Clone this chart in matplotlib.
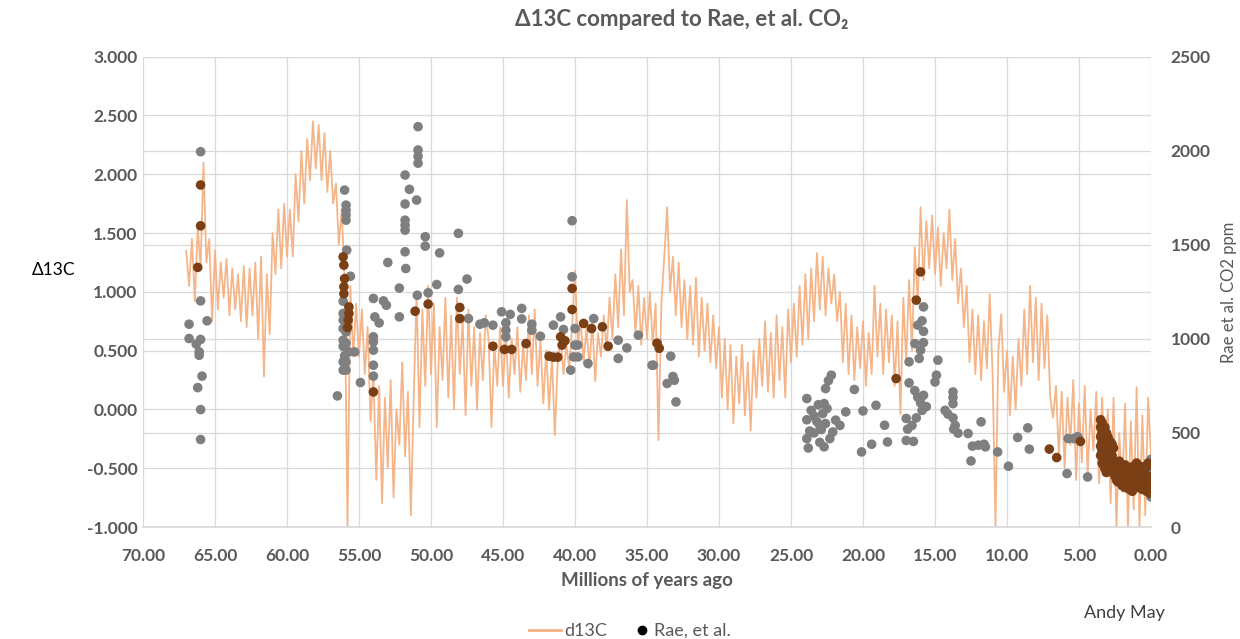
import numpy as np
import matplotlib
matplotlib.use("Agg")
import matplotlib.pyplot as plt
from matplotlib.lines import Line2D

plt.rcParams['font.family'] = ['Lato', 'DejaVu Sans']

# ---------------- data ----------------
TITLE = "Δ13C compared to Rae, et al. CO₂"
X_TICKS = [70, 65, 60, 55, 50, 45, 40, 35, 30, 25, 20, 15, 10, 5, 0]
LEFT_TICKS = [-1.0, -0.5, 0.0, 0.5, 1.0, 1.5, 2.0, 2.5, 3.0]
RIGHT_TICKS = [0, 500, 1000, 1500, 2000, 2500]

# d13C sampled every 0.2 Myr from 67.0 Ma to 0.0 Ma (one row per Myr)
D13C_START, D13C_STEP = 67.0, 0.2
D13C_VALUES = [
    1.35, 1.05, 1.45, 0.92, 1.55,    # 67
    1.20, 2.10, 1.25, 1.45, 0.75,    # 66
    1.35, 0.85, 1.25, 0.95, 1.28,    # 65
    0.80, 1.20, 0.85, 1.15, 0.75,    # 64
    1.22, 0.70, 1.20, 0.80, 1.25,    # 63
    0.60, 1.30, 0.28, 1.15, 0.64,    # 62
    1.50, 1.15, 1.70, 1.20, 1.75,    # 61
    1.30, 1.70, 1.30, 2.00, 1.60,    # 60
    2.20, 1.75, 2.30, 1.95, 2.45,    # 59
    2.05, 2.42, 1.95, 2.35, 1.85,    # 58
    2.20, 1.75, 1.92, 1.40, 1.70,    # 57
    1.10, -1.00, 1.05, 0.45, 0.90,   # 56
    0.45, 0.85, 0.30, 0.70, -0.10,   # 55
    0.30, -0.60, 0.20, -0.80, 0.10,  # 54
    -0.50, 0.25, -0.75, 0.00, -0.30, # 53
    0.40, -0.40, 0.15, -0.90, 0.10,  # 52
    1.00, -0.15, 0.85, 0.20, 1.05,   # 51
    0.30, 0.90, -0.15, 0.70, 0.25,   # 50
    0.95, 0.10, 0.80, 0.00, 0.95,    # 49
    0.30, 0.75, -0.05, 0.85, 0.20,   # 48
    0.70, 0.00, 0.65, 0.25, 0.80,    # 47
    0.60, -0.15, 0.55, 0.20, 0.70,   # 46
    0.20, 0.65, 0.10, 0.60, 0.30,    # 45
    0.70, 0.15, 0.55, 0.25, 0.80,    # 44
    0.30, 0.85, 0.20, 0.60, 0.05,    # 43
    0.50, 0.00, 0.45, -0.22, 0.40,   # 42
    0.60, 0.30, 0.55, 0.35, 0.70,    # 41
    1.18, 0.55, 0.75, 0.40, 0.70,    # 40
    0.35, 0.75, 0.24, 0.65, 0.45,    # 39
    0.80, 0.50, 0.95, 0.60, 1.15,    # 38
    0.70, 1.36, 0.80, 1.78, 1.00,    # 37
    1.10, 0.65, 1.05, 0.55, 0.95,    # 36
    0.60, 1.00, 0.55, 0.90, -0.26,   # 35
    0.90, 1.30, 1.72, 1.00, 1.30,    # 34
    0.80, 1.25, 0.70, 1.10, 0.60,    # 33
    1.05, 0.55, 1.12, 0.45, 0.95,    # 32
    0.50, 0.90, 0.40, 0.80, 0.35,    # 31
    0.70, 0.10, 0.60, 0.00, 0.55,    # 30
    -0.12, 0.45, 0.05, 0.55, -0.05,  # 29
    0.40, -0.18, 0.50, 0.10, 0.60,   # 28
    0.20, 0.75, 0.15, 0.65, 0.10,    # 27
    0.80, 0.25, 0.70, 0.10, 0.85,    # 26
    0.40, 0.90, 0.45, 1.05, 0.55,    # 25
    1.15, 0.60, 1.20, 0.75, 1.33,    # 24
    0.85, 1.30, 0.80, 1.20, 0.90,    # 23
    1.15, 0.75, 1.00, 0.40, 0.90,    # 22
    0.30, 0.80, 0.25, 0.70, 0.35,    # 21
    0.75, 0.20, 0.65, 0.30, 1.05,    # 20
    0.45, 0.90, 0.30, 0.85, 0.40,    # 19
    0.80, 0.20, 0.75, -0.04, 0.95,   # 18
    0.40, 1.10, 0.50, 1.38, 0.90,    # 17
    1.72, 1.10, 1.60, 1.20, 1.65,    # 16
    1.15, 1.55, 1.05, 1.50, 1.20,    # 15
    1.70, 1.10, 1.45, 0.90, 1.20,    # 14
    0.70, 1.05, 0.40, 0.85, 0.30,    # 13
    0.80, 0.25, 0.75, 0.35, 0.98,    # 12
    0.30, -1.00, 0.50, 0.81, 0.15,   # 11
    0.50, -0.05, 0.45, 0.00, 0.60,   # 10
    0.20, 0.85, 0.30, 1.05, 0.40,    # 9
    0.95, 0.25, 0.90, 0.35, 0.80,    # 8
    0.10, -0.07, 0.20, -0.40, 0.15,  # 7
    -0.50, 0.10, -0.30, 0.25, -0.60, # 6
    0.05, -0.45, 0.20, -0.55, 0.00,  # 5
    -0.35, 0.15, -0.63, 0.10, -0.40, # 4
    0.00, -0.80, 0.10, -1.00, -0.20, # 3
    -0.70, 0.05, -1.00, -0.10, -0.85,# 2
    0.19, -1.00, -0.05, -0.90, 0.10, # 1
    -0.40,                           # 0
]

# Rae et al. CO2 points (age Ma, ppm) - grey ones
RAE_GREY_AGE = [
    66.0, 66.0, 66.8, 65.55, 66.8, 66.0, 66.3, 66.1, 66.1, 65.9, 66.2, 66.0, 66.0,
    56.0, 55.9, 55.9, 55.9, 55.9, 55.85, 55.6, 56.1, 56.1, 55.9, 56.1, 55.9, 55.7, 55.3,
    56.1, 55.9, 56.1, 55.9, 56.5, 56.1, 56.1, 56.1, 56.0,
    54.9, 54.0, 54.0, 54.0, 54.0, 54.0, 54.0, 53.9, 53.6, 53.3, 53.1, 53.0, 52.2, 52.2,
    51.8, 51.8, 51.8, 51.8, 51.8, 51.8, 51.75, 51.5, 51.0, 50.9, 50.9, 50.9, 50.9, 50.95,
    50.4, 50.4, 50.2, 49.4, 49.6, 48.1, 48.1, 47.5, 47.4, 46.6,
    46.3, 45.7, 45.1, 44.5, 44.8, 44.8, 44.8, 43.7, 43.7, 43.0, 43.0, 42.4, 41.5, 41.0,
    40.8, 40.3, 40.2, 40.2, 40.0, 39.8, 40.0, 40.1, 39.8, 39.1, 38.7, 37.0, 37.0, 36.4,
    35.6, 34.65, 34.55,
    33.35, 33.1, 33.2, 33.6, 32.99,
    23.9, 23.6, 23.4, 23.9, 23.7, 23.9, 23.8, 23.4, 23.2, 23.1, 23.0,
    22.2, 22.4, 22.6, 22.7, 22.5, 22.8, 22.6, 22.9, 22.7, 22.1, 21.9, 21.6, 21.2, 22.3, 23.0,
    20.6, 20.0, 20.1, 19.4, 19.1, 18.5, 18.3,
    16.8, 16.8, 17.0, 16.9, 17.0, 16.5, 16.4, 16.2, 16.0, 15.9, 15.8, 15.6, 16.3, 16.6,
    16.4, 15.8, 16.2, 15.9, 15.8, 15.8, 16.0, 16.1,
    14.8, 14.9, 15.0, 13.75, 13.75, 13.75, 14.3, 14.1, 13.75, 13.6, 13.4, 13.7,
    12.7, 11.8, 12.4, 12.0, 11.6, 12.5,
    11.5, 10.65, 9.9, 9.26, 8.56, 8.45, 5.83, 5.75, 5.35, 4.4, 5.1,
    0.0, 0.0, 0.0, 0.0, 0.0, 0.0, 0.0,
]
RAE_GREY_PPM = [
    1995, 1202, 1078, 1096, 1002, 997, 972, 931, 913, 802, 741, 624, 465,
    1791, 1711, 1685, 1658, 1631, 1472, 1333, 1135, 1055, 1037, 993, 977, 931, 931,
    878, 878, 834, 834, 697, 1200, 1100, 960, 910,
    768, 802, 860, 940, 984, 1011, 1215, 1117, 1085, 1202, 1179, 1406, 1270, 1117,
    1871, 1717, 1631, 1605, 1578, 1463, 1374, 1795, 1738, 2128, 2004, 1970, 1934, 1232,
    1543, 1493, 1245, 1457, 1289, 1561, 1263, 1318, 1108, 1078,
    1085, 1073, 1144, 1130, 1085, 1046, 1011, 1162, 1106, 1078, 1046, 1014, 1073, 1117,
    1050, 834, 1628, 1330, 1055, 967, 967, 904, 904, 869, 1108, 993, 896, 952,
    1020, 860, 860,
    908, 780, 800, 763, 665,
    683, 620, 590, 570, 510, 470, 420, 500, 560, 650, 540,
    807, 778, 736, 656, 630, 603, 550, 518, 426, 505, 568, 540, 612, 470, 450,
    731, 617, 399, 440, 647, 541, 452,
    878, 766, 577, 520, 460, 455, 725, 690, 660, 620, 700, 640, 580, 540,
    975, 1170, 1073, 1096, 1040, 980, 940, 896,
    887, 807, 771, 718, 688, 656, 620, 600, 580, 540, 499, 520,
    497, 559, 430, 435, 440, 351,
    426, 399, 323, 476, 527, 414, 284, 470, 470, 266, 480,
    360, 320, 290, 250, 220, 190, 160,
]

# Rae et al. points that sit on the d13C band (rendered darker)
RAE_BROWN_AGE = [
    66.0, 66.0, 66.2,
    56.1, 56.05, 56.05, 56.05, 55.7, 55.7, 55.8, 56.0, 55.75,
    54.0, 51.1, 50.2, 48.0, 48.0,
    45.7, 44.9, 44.4, 43.4, 41.8, 41.5, 41.2, 41.0, 40.7, 40.9, 40.2, 40.2, 39.4,
    38.85, 38.1, 37.7, 34.3, 34.15,
    17.7, 16.3, 16.0,
    7.06, 6.55, 4.9,
    3.5, 3.5, 3.5, 3.5, 3.5, 3.4, 3.4, 3.4, 3.4, 3.4, 3.3, 3.3, 3.3, 3.3,
    3.2, 3.2, 3.2, 3.2, 3.2, 3.1, 3.1, 3.1, 3.1, 3.0, 3.0, 3.0, 3.0,
    2.9, 2.9, 2.9, 2.8, 2.8, 2.8, 2.7, 2.7, 2.7, 2.6, 2.6, 2.6,
    2.5, 2.5, 2.4, 2.4, 2.3, 2.3, 2.2, 2.2, 2.1, 2.1, 2.0, 2.0,
    1.9, 1.9, 1.8, 1.8, 1.8, 1.6, 1.6, 1.5, 1.5, 1.3, 1.3, 1.3, 1.2, 1.2,
    1.0, 1.0, 1.0, 0.9, 0.9, 0.8, 0.8, 0.6, 0.6, 0.6, 0.5, 0.5, 0.4, 0.4,
    0.3, 0.3, 0.3, 0.2, 0.2, 0.2, 0.1, 0.1, 0.1,
]
RAE_BROWN_PPM = [
    1818, 1601, 1380,
    1436, 1392, 1277, 1240, 1170, 1135, 1060, 1320, 1100,
    718, 1147, 1185, 1167, 1108,
    961, 944, 944, 975, 908, 903, 903, 1011, 990, 967, 1268, 1156, 1082,
    1055, 1064, 961, 977, 950,
    789, 1206, 1356,
    414, 369, 455,
    570, 530, 480, 430, 380, 555, 500, 450, 400, 340, 510, 460, 410, 330,
    530, 480, 430, 370, 310, 500, 440, 380, 290, 480, 420, 360, 310,
    460, 400, 340, 450, 390, 330, 440, 380, 320, 420, 350, 290,
    340, 270, 320, 250, 300, 240, 350, 270, 320, 240, 300, 220,
    310, 250, 330, 270, 210, 300, 230, 280, 200, 320, 250, 190, 290, 220,
    340, 270, 210, 290, 220, 310, 240, 320, 250, 200, 290, 220, 270, 200,
    320, 250, 190, 340, 270, 210, 330, 250, 180,
]

# ---------------- styling ----------------
ORANGE = "#F4B183"
GREY = "#7F7F7F"
BROWN = "#7B3F16"
TXT = "#595959"
GRID = "#D9D9D9"
TICK_FS = 12.5

d13c_age = np.round(D13C_START - D13C_STEP * np.arange(len(D13C_VALUES)), 2)

fig = plt.figure(figsize=(12.4, 6.39), dpi=100)
rect = [143 / 1240, 1 - 527 / 639, (1151 - 143) / 1240, (527 - 56.7) / 639]

# background axis carrying the right-hand gridlines
axg = fig.add_axes(rect, zorder=0)
ax1 = fig.add_axes(rect, zorder=1, sharex=axg)
ax2 = fig.add_axes(rect, zorder=2, sharex=axg)
for a in (ax1, ax2):
    a.patch.set_visible(False)

axg.set_xlim(70, 0)
axg.set_ylim(0, 2500)
axg.set_yticks(RIGHT_TICKS)
axg.set_xticks(X_TICKS)
axg.grid(True, axis='both', color=GRID, lw=0.9)
axg.tick_params(left=False, bottom=False, labelleft=False, labelbottom=False)
for s in axg.spines.values():
    s.set_visible(False)

# left axis: d13C
ax1.plot(d13c_age, D13C_VALUES, color=ORANGE, lw=1.3, alpha=0.95)
ax1.set_ylim(-1.0, 3.0)
ax1.set_yticks(LEFT_TICKS)
ax1.set_yticklabels([f"{v:.3f}" for v in LEFT_TICKS])
ax1.grid(True, axis='y', color=GRID, lw=0.9)
ax1.set_axisbelow(True)
ax1.set_xticks(X_TICKS)
ax1.set_xticklabels([f"{v:.2f}" for v in X_TICKS])
ax1.tick_params(axis='y', length=0, colors=TXT, labelsize=TICK_FS, pad=4)
ax1.tick_params(axis='x', length=0, colors=TXT, labelsize=TICK_FS, pad=15)
for lab in ax1.get_xticklabels() + ax1.get_yticklabels():
    lab.set_fontweight('bold')
for s in ax1.spines.values():
    s.set_visible(False)
ax1.spines['bottom'].set_visible(True)
ax1.spines['bottom'].set_color(GRID)
ax1.spines['bottom'].set_linewidth(1.2)
ax1.set_xlabel("Millions of years ago", color=TXT, fontsize=13.5,
               fontweight='bold', labelpad=6)

# right axis: CO2
ax2.scatter(RAE_GREY_AGE, RAE_GREY_PPM, s=48, color=GREY, edgecolors='none', zorder=3)
ax2.scatter(RAE_BROWN_AGE, RAE_BROWN_PPM, s=48, color=BROWN, edgecolors='none', zorder=4)
ax2.set_ylim(0, 2500)
ax2.set_yticks(RIGHT_TICKS)
ax2.yaxis.tick_right()
ax2.tick_params(axis='y', length=0, colors=TXT, labelsize=TICK_FS, pad=14)
ax2.tick_params(axis='x', bottom=False, labelbottom=False)
for lab in ax2.get_yticklabels():
    lab.set_fontweight('bold')
for s in ax2.spines.values():
    s.set_visible(False)

fig.text(1229 / 1240, 1 - 292 / 639, "Rae et al. CO2 ppm", color=TXT, fontsize=12,
         rotation=90, ha='center', va='center')
fig.text(54 / 1240, 1 - 270 / 639, "Δ13C", fontsize=12.5, color='black',
         ha='center', va='center')
fig.text(682 / 1240, 1 - 19 / 639, TITLE, fontsize=16, color=TXT,
         fontweight='bold', ha='center', va='center')
fig.text(1124 / 1240, 1 - 613 / 639, "Andy May", fontsize=13, color='#404040',
         ha='center', va='center')

leg1 = fig.legend([Line2D([], [], color=ORANGE, lw=2)], ["d13C"], loc='center',
                  bbox_to_anchor=(568 / 1240, 1 - 631 / 639), frameon=False,
                  fontsize=13, labelcolor=TXT, handlelength=1.8, handletextpad=0.2,
                  borderpad=0, borderaxespad=0)
leg2 = fig.legend([Line2D([], [], color='black', marker='o', lw=0, markersize=6)],
                  ["Rae, et al."], loc='center',
                  bbox_to_anchor=(684 / 1240, 1 - 631 / 639), frameon=False,
                  fontsize=13, labelcolor=TXT, handlelength=0.6, handletextpad=0.35,
                  borderpad=0, borderaxespad=0)

fig.savefig("out.png", dpi=100)
